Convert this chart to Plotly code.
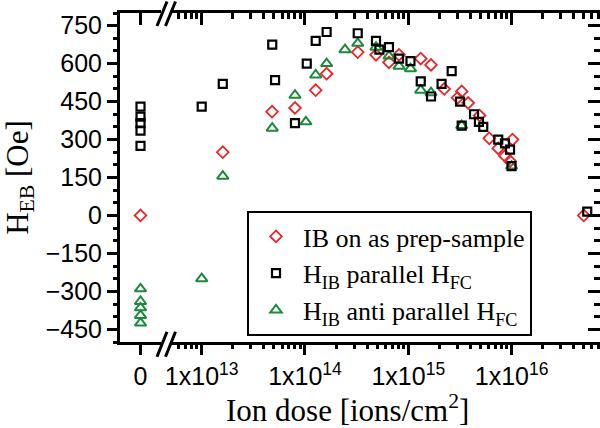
import plotly.graph_objects as go

# Exchange-bias field vs. ion dose for three sample series (dose 0 = unirradiated)
red_dose = [0, 1.6e13, 4.8e13, 8.0e13, 1.27e14, 1.62e14, 3.24e14, 4.87e14, 6.5e14,
            8.13e14, 1.32e15, 1.66e15, 2.23e15, 3.0e15, 3.29e15, 3.8e15, 4.9e15,
            6.08e15, 7.43e15, 8.63e15, 9.66e15, 1.02e16, 5.0e16]
red_heb = [0, 250, 410, 425, 495, 560, 645, 635, 605,
           635, 620, 595, 500, 465, 490, 445, 395,
           305, 265, 235, 215, 300, 0]

blk_dose = [0, 0, 0, 0, 0, 1.0e13, 1.6e13, 4.82e13, 5.13e13, 8.0e13, 1.04e14,
            1.27e14, 1.62e14, 3.24e14, 4.87e14, 5.25e14, 6.5e14, 8.13e14, 1.05e15,
            1.32e15, 1.66e15, 2.1e15, 2.63e15, 3.17e15, 3.29e15, 4.33e15, 4.83e15,
            5.32e15, 7.43e15, 8.63e15, 9.66e15, 1.0e16, 5.4e16]
blk_heb = [430, 390, 365, 335, 275, 430, 520, 675, 535, 365, 600,
           690, 725, 720, 690, 655, 665, 620, 610,
           530, 470, 520, 570, 450, 355, 400, 370,
           350, 300, 285, 260, 195, 15]

grn_dose = [0, 0, 0, 0, 0, 1.0e13, 1.6e13, 4.82e13, 8.0e13, 1.02e14, 1.27e14,
            1.62e14, 2.44e14, 3.24e14, 4.87e14, 6.5e14, 8.13e14, 1.05e15, 1.32e15,
            1.66e15, 3.29e15, 1.0e16]
grn_heb = [-290, -340, -365, -395, -425, -250, 155, 345, 475, 370, 555,
           600, 655, 680, 665, 630, 590, 580, 495,
           485, 355, 195]

series = [
    ("IB on as prep-sample", red_dose, red_heb, "diamond-open", "#e8262b", 9, 1.8),
    ("H<sub>IB</sub> parallel H<sub>FC</sub>", blk_dose, blk_heb, "square-open", "#000000", 8, 2.2),
    ("H<sub>IB</sub> anti parallel H<sub>FC</sub>", grn_dose, grn_heb, "triangle-up-open", "#1b8a3c", 10, 2.0),
]
draw_order = [0, 2, 1]

x_ticks = [1e13, 1e14, 1e15, 1e16]
x_ticktext = ["1x10<sup>13</sup>", "1x10<sup>14</sup>", "1x10<sup>15</sup>", "1x10<sup>16</sup>"]
y_ticks = [-450, -300, -150, 0, 150, 300, 450, 600, 750]

W, H = 600, 428
L, R, T, B = 120, 0, 13, 86
pw, ph = W - L - R, H - T - B


def px(x):
    return (x - L) / pw


def py(y):
    return (H - B - y) / ph


SANS = "Liberation Sans"
SERIF = "Liberation Serif"
LOG_RANGE = [12.7125, 16.856]
Y_RANGE = [-500, 800]

fig = go.Figure()
for i in draw_order:
    name, dose, heb, sym, col, size, lw = series[i]
    z_y = [h for d, h in zip(dose, heb) if d == 0]
    d_x = [d for d in dose if d > 0]
    d_y = [h for d, h in zip(dose, heb) if d > 0]
    mk = dict(symbol=sym, color=col, size=size, line=dict(color=col, width=lw))
    fig.add_trace(go.Scatter(x=[0] * len(z_y), y=z_y, mode="markers", marker=mk,
                             xaxis="x", yaxis="y", showlegend=False, legendgroup=name,
                             name=name))
    fig.add_trace(go.Scatter(x=d_x, y=d_y, mode="markers", marker=mk,
                             xaxis="x2", yaxis="y", name=name, legendgroup=name,
                             legendrank=i + 1))

# empty traces so the mirrored (top / right) tick axes get their subplots
for xa, ya in [("x3", "y"), ("x4", "y"), ("x2", "y2")]:
    fig.add_trace(go.Scatter(x=[], y=[], mode="markers", xaxis=xa, yaxis=ya,
                             showlegend=False, hoverinfo="skip"))

tick_common = dict(showgrid=False, zeroline=False, showline=False,
                   ticklen=12, tickwidth=3, tickcolor="black")
left_dom = [0, px(161)]
right_dom = [px(172), 1]
tfont = dict(family=SANS, size=25, color="black")


def minor(kind, dtick):
    return dict(dtick=dtick, ticks=kind, ticklen=6, tickwidth=3,
                tickcolor="black", showgrid=False)


fig.update_layout(
    width=W, height=H,
    margin=dict(l=L, r=R, t=T, b=B),
    plot_bgcolor="white", paper_bgcolor="white",
    xaxis=dict(domain=left_dom, range=[-1, 1], tickvals=[0], ticktext=["0"],
               ticks="outside", anchor="y", tickfont=tfont, **tick_common),
    xaxis2=dict(domain=right_dom, type="log", range=LOG_RANGE, tickvals=x_ticks,
                ticktext=x_ticktext, ticks="outside", anchor="y", tickfont=tfont,
                minor=minor("outside", "D1"), **tick_common),
    xaxis3=dict(overlaying="x", side="top", range=[-1, 1], tickvals=[0],
                ticks="inside", showticklabels=False, anchor="y", **tick_common),
    xaxis4=dict(overlaying="x2", side="top", type="log", range=LOG_RANGE, tickvals=x_ticks,
                ticks="inside", showticklabels=False, anchor="y",
                minor=minor("inside", "D1"), **tick_common),
    yaxis=dict(range=Y_RANGE, tickvals=y_ticks, ticks="outside", anchor="x",
               tickfont=tfont, minor=minor("outside", 50),
               title=dict(text="H<sub>EB</sub> [Oe]", font=dict(family=SERIF, size=31, color="black"),
                          standoff=8),
               **tick_common),
    yaxis2=dict(overlaying="y", side="right", anchor="x2", range=Y_RANGE, tickvals=y_ticks,
                ticks="inside", showticklabels=False, minor=minor("inside", 50),
                **tick_common),
    legend=dict(x=px(247), y=py(211), xanchor="left", yanchor="top",
                bgcolor="white", bordercolor="black", borderwidth=2,
                font=dict(family=SERIF, size=26, color="black"), itemwidth=44,
                entrywidth=255, entrywidthmode="pixels", traceorder="normal"),
    showlegend=True,
)

fig.add_annotation(text="Ion dose [ions/cm<sup>2</sup>]", xref="paper", yref="paper",
                   x=px(347), y=py(408), xanchor="center", yanchor="middle", showarrow=False,
                   font=dict(family=SERIF, size=31, color="black"))


def seg(x0, y0, x1, y1):
    fig.add_shape(type="line", xref="paper", yref="paper",
                  x0=px(x0), y0=py(y0), x1=px(x1), y1=py(y1),
                  line=dict(color="black", width=3), layer="above")


# frame: left spine, and bottom / top spines split at the axis break
seg(118.5, 11.5, 118.5, 343.5)
for yy in (343.5, 11.5):
    seg(117, yy, 161, yy)
    seg(172, yy, 600, yy)

# axis-break marks on bottom and top spines
for yb, yt in [(356.7, 331.7), (26.0, 1.5)]:
    for x0 in (157.0, 165.5):
        seg(x0, yb, x0 + 10, yt)

fig.write_html("out.html")
